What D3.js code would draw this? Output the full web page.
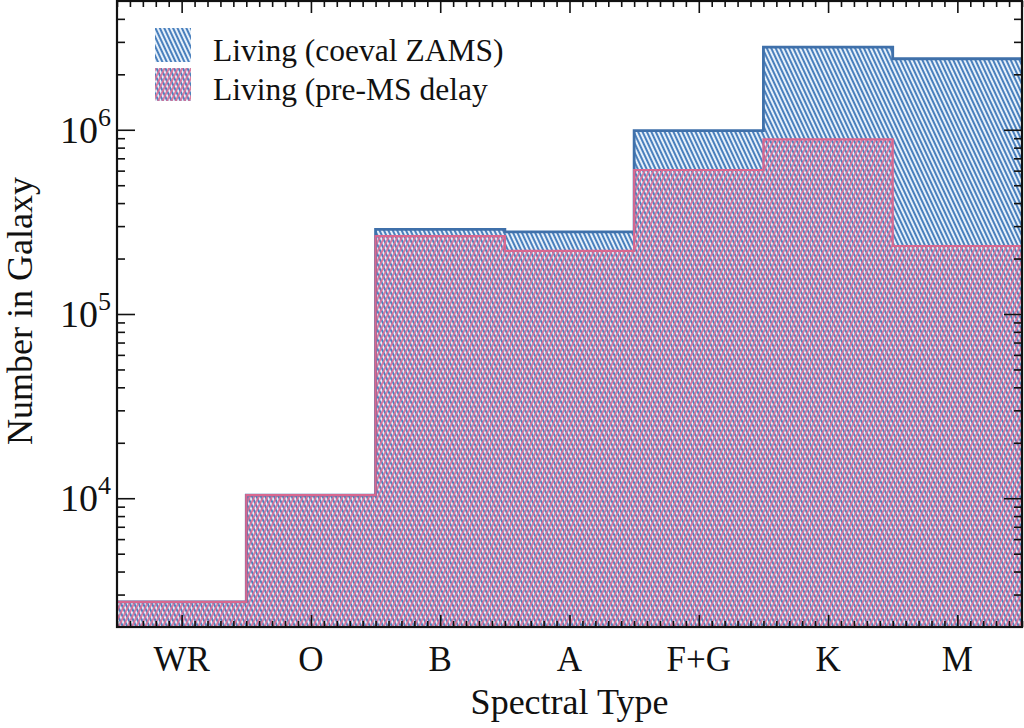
<!DOCTYPE html>
<html>
<head>
<meta charset="utf-8">
<script src="https://cdn.jsdelivr.net/npm/d3@7"></script>
<style>
  body { margin: 0; background: #fff; }
  text { font-family: "Liberation Serif", "Times New Roman", serif; fill: #111; }
</style>
</head>
<body>
<div id="chart"></div>
<script>
// spectral type bins
let types = ["WR", "O", "B", "A", "F+G", "K", "M"];
// living stars, coeval ZAMS
let coevalVals = [2740, 10400, 288000, 279000, 990000, 2810000, 2430000];
// living stars, with pre-MS delay
let premsVals = [2740, 10400, 265000, 220000, 605000, 887000, 234000];
let yMajorTicks = [1e4, 1e5, 1e6];
let legendLabels = ["Living (coeval ZAMS)", "Living (pre-MS delay"];

let margin = {top: 1, right: 2, bottom: 101, left: 117},
    width = 1024 - margin.left - margin.right,
    height = 728 - margin.top - margin.bottom;

let svg = d3.select("#chart")
            .append("svg")
                .attr("width", 1024)
                .attr("height", 728);

let defs = svg.append("defs");

// blue hatch  "\\\\"
let pb = defs.append("pattern")
    .attr("id", "hatchBlue")
    .attr("patternUnits", "userSpaceOnUse")
    .attr("width", 4).attr("height", 4)
    .attr("patternTransform", "rotate(-25)");
pb.append("rect").attr("width", 4).attr("height", 4).attr("fill", "#e6f0fa");
pb.append("line").attr("x1", 1).attr("y1", 0).attr("x2", 1).attr("y2", 4)
    .attr("stroke", "#4a80bd").attr("stroke-width", 2);

// pink hatch "////" laid over the blue one
let pp = defs.append("pattern")
    .attr("id", "hatchPink")
    .attr("patternUnits", "userSpaceOnUse")
    .attr("width", 4).attr("height", 4)
    .attr("patternTransform", "rotate(25)");
pp.append("line").attr("x1", 2).attr("y1", 0).attr("x2", 2).attr("y2", 4)
    .attr("stroke", "#da7098").attr("stroke-width", 1.8);

let g = svg.append("g")
    .attr("transform", "translate(" + margin.left + "," + margin.top + ")");

let x = d3.scaleLinear()
            .domain([-0.5, types.length - 0.5])
            .range([0, width]);

let y = d3.scaleLog()
            .domain([2000, 5e6])
            .range([height, 0]);

function steps(vals) {
    let pts = vals.map((v, i) => ({"x": i - 0.5, "v": v}));
    pts.push({"x": vals.length - 0.5, "v": vals[vals.length - 1]});
    return pts;
}

let area = d3.area()
    .curve(d3.curveStepAfter)
    .x(d => x(d["x"]))
    .y0(y(2000))
    .y1(d => y(d["v"]));

let line = d3.line()
    .curve(d3.curveStepAfter)
    .x(d => x(d["x"]))
    .y(d => y(d["v"]));

g.append("path").datum(steps(coevalVals))
    .attr("d", area).attr("fill", "url(#hatchBlue)");
g.append("path").datum(steps(premsVals))
    .attr("d", area).attr("fill", "url(#hatchPink)");
g.append("path").datum(steps(coevalVals))
    .attr("d", line).attr("fill", "none")
    .attr("stroke", "#3f70aa").attr("stroke-width", 2.8);
g.append("path").datum(steps(premsVals))
    .attr("d", line).attr("fill", "none")
    .attr("stroke", "#d8678f").attr("stroke-width", 2.2);

// ticks on all four sides
let xMinor = d3.range(-5, types.length * 10 - 4).map(k => k / 10).filter(v => Math.abs(v - Math.round(v)) > 1e-6);
let yMinor = [];
[1e3, 1e4, 1e5, 1e6].forEach(dec => d3.range(2, 10).forEach(m => {
    let v = dec * m;
    if (v > 2000 && v < 5e6) yMinor.push(v);
}));

g.append("g").call(d3.axisBottom(x).tickValues(d3.range(types.length)).tickSize(-12).tickFormat(""))
    .attr("transform", "translate(0," + height + ")");
g.append("g").call(d3.axisBottom(x).tickValues(xMinor).tickSize(-6).tickFormat(""))
    .attr("transform", "translate(0," + height + ")");
g.append("g").call(d3.axisTop(x).tickValues(d3.range(types.length)).tickSize(-12).tickFormat(""));
g.append("g").call(d3.axisTop(x).tickValues(xMinor).tickSize(-6).tickFormat(""));
g.append("g").call(d3.axisLeft(y).tickValues(yMajorTicks).tickSize(-18).tickFormat(""));
g.append("g").call(d3.axisLeft(y).tickValues(yMinor).tickSize(-8).tickFormat(""));
g.append("g").call(d3.axisRight(y).tickValues(yMajorTicks).tickSize(-18).tickFormat(""))
    .attr("transform", "translate(" + width + ",0)");
g.append("g").call(d3.axisRight(y).tickValues(yMinor).tickSize(-8).tickFormat(""))
    .attr("transform", "translate(" + width + ",0)");
g.selectAll(".domain").remove();
g.selectAll(".tick line").attr("stroke", "#111").attr("stroke-width", 1.6);

g.append("rect")
    .attr("width", width).attr("height", height)
    .attr("fill", "none").attr("stroke", "#111").attr("stroke-width", 2.2);

// x labels
g.selectAll("text.xlab")
    .data(types)
    .join("text")
        .attr("class", "xlab")
        .attr("x", (d, i) => x(i))
        .attr("y", height + 44)
        .attr("text-anchor", "middle")
        .style("font-size", "35px")
        .text(d => d);

// y labels 10^n
let yl = g.selectAll("text.ylab")
    .data(yMajorTicks)
    .join("text")
        .attr("class", "ylab")
        .attr("x", -6)
        .attr("y", d => y(d) + 13)
        .attr("text-anchor", "end")
        .style("font-size", "38px");
yl.append("tspan").text("10");
yl.append("tspan").attr("dy", -17).style("font-size", "26px").text(d => Math.round(Math.log10(d)));

svg.append("text")
    .attr("x", margin.left + width / 2)
    .attr("y", 714)
    .attr("text-anchor", "middle")
    .style("font-size", "36px")
    .text("Spectral Type");

svg.append("text")
    .attr("transform", "translate(32," + 311 + ") rotate(-90)")
    .attr("text-anchor", "middle")
    .style("font-size", "36px")
    .text("Number in Galaxy");

// legend
let leg = svg.append("g");
leg.append("rect").attr("x", 155).attr("y", 28).attr("width", 36).attr("height", 34)
    .attr("fill", "url(#hatchBlue)");
leg.append("rect").attr("x", 155).attr("y", 68).attr("width", 36).attr("height", 33)
    .attr("fill", "url(#hatchBlue)");
leg.append("rect").attr("x", 155).attr("y", 68).attr("width", 36).attr("height", 33)
    .attr("fill", "url(#hatchPink)");
leg.selectAll("text")
    .data(legendLabels)
    .join("text")
        .attr("x", 213)
        .attr("y", (d, i) => 61 + i * 39)
        .style("font-size", "31.5px")
        .text(d => d);
</script>
</body>
</html>
